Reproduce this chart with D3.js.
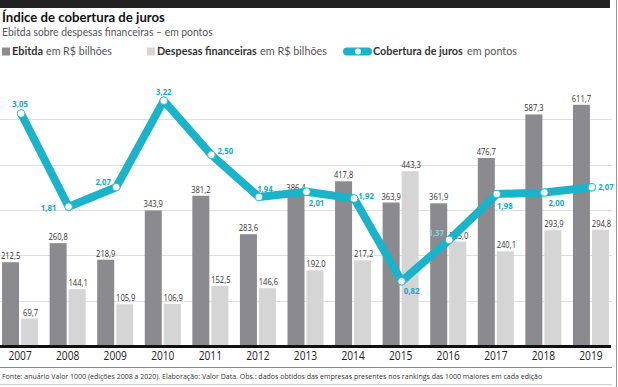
<!DOCTYPE html>
<html>
<head>
<meta charset="utf-8">
<script src="https://cdn.jsdelivr.net/npm/d3@7"></script>
<style>
  html, body { margin: 0; padding: 0; background: #fff; }
  svg { display: block; font-family: "Open Sans", sans-serif; }
</style>
</head>
<body>
<svg id="chart" width="618" height="387"></svg>
<script>
// ---- data ----
const years = ["2007","2008","2009","2010","2011","2012","2013","2014","2015","2016","2017","2018","2019"];
const ebitda = [212.5, 260.8, 218.9, 343.9, 381.2, 283.6, 386.4, 417.8, 363.9, 361.9, 476.7, 587.3, 611.7];
const despesas = [69.7, 144.1, 105.9, 106.9, 152.5, 146.6, 192.0, 217.2, 443.3, 265.0, 240.1, 293.9, 294.8];
const cobertura = [3.05, 1.81, 2.07, 3.22, 2.50, 1.94, 2.01, 1.92, 0.82, 1.37, 1.98, 2.00, 2.07];
const gridValues = [115, 230, 345, 460, 575];

// label placement for the line values (layout only)
const lineLabelOffsets = [[-1,-6.5],[-20,4.5],[-13,-2.5],[0,-5.5],[14,-0.5],[6,-5.5],[10,14.5],[12,0.5],[10,12.5],[-13,-3.5],[8,14.5],[12,13.5],[14,2.5]];

const C = { dark: "#8b8b8f", light: "#d5d5d5", cyan: "#1bb3c9", cyanText: "#17a9c0", text: "#333", grid: "#dedede" };

const svg = d3.select("#chart");
const commaFmt = f => v => d3.format(f)(v).replace(".", ",");
const fmt1 = commaFmt(".1f"), fmt2 = commaFmt(".2f");

// horizontally condense text with a transform (keeps bounding boxes honest)
function squeeze(sel, opt) {
  sel.each(function() {
    const t = d3.select(this);
    const L = this.getComputedTextLength();
    const s = opt.width ? opt.width / L : opt.factor;
    const x0 = +t.attr("x") || 0, y0 = +t.attr("y") || 0;
    t.attr("x", 0).attr("y", 0).attr("transform", `translate(${x0},${y0}) scale(${s},1)`);
  });
}

// ---- scales ----
const x = d3.scaleBand().domain(years).range([0, 611]).paddingInner(0.243).paddingOuter(0.043);
const xs = d3.scaleBand().domain(["e","d"]).range([0, x.bandwidth()]).paddingInner(0.105);
const yBar = d3.scaleLinear().domain([0, 700]).range([346, 70]);
const yLine = d3.scaleLinear().domain([0, 4]).range([343, 42]);

// ---- header ----
svg.append("rect").attr("x", 0).attr("y", 0).attr("width", 610).attr("height", 8).attr("fill", "#222");
svg.append("line").attr("x1", 616.5).attr("x2", 616.5).attr("y1", 0).attr("y2", 387).attr("stroke", "#9a9a9a");

svg.append("text").attr("x", 2).attr("y", 21.5).attr("font-family", "Lato, sans-serif")
  .attr("font-size", 14).attr("font-weight", 700).attr("fill", "#111")
  .text("Índice de cobertura de juros").call(squeeze, { width: 163 });
svg.append("text").attr("x", 2).attr("y", 36).attr("font-family", "Lato, sans-serif")
  .attr("font-size", 11).attr("fill", "#555")
  .text("Ebitda sobre despesas financeiras – em pontos").call(squeeze, { width: 211 });

// legend
const lg = svg.append("g").attr("font-size", 11).attr("font-family", "Lato, sans-serif");
function legendText(xPos, w, str, bold) {
  lg.append("text").attr("x", xPos).attr("y", 55)
    .attr("font-weight", bold ? 700 : 400).attr("fill", bold ? "#333" : "#555")
    .text(str).call(squeeze, { width: w });
}
lg.append("rect").attr("x", 2).attr("y", 47.5).attr("width", 8).attr("height", 8).attr("fill", C.dark);
legendText(12, 31, "Ebitda", true);
legendText(46, 66, "em R$ bilhões", false);

lg.append("rect").attr("x", 147).attr("y", 47.5).attr("width", 8).attr("height", 8).attr("fill", C.light);
legendText(157, 100, "Despesas financeiras", true);
legendText(260, 67, "em R$ bilhões", false);

lg.append("line").attr("x1", 347).attr("x2", 368).attr("y1", 51.5).attr("y2", 51.5)
  .attr("stroke", C.cyan).attr("stroke-width", 8).attr("stroke-linecap", "round");
lg.append("circle").attr("cx", 358).attr("cy", 51.5).attr("r", 3).attr("fill", "#fff");
legendText(373, 90, "Cobertura de juros", true);
legendText(467, 50, "em pontos", false);

// ---- grid ----
svg.append("g").selectAll("line").data(gridValues).join("line")
  .attr("x1", 0).attr("x2", 612)
  .attr("y1", d => Math.round(yBar(d)) + 0.5).attr("y2", d => Math.round(yBar(d)) + 0.5)
  .attr("stroke", C.grid).attr("stroke-width", 1);

// ---- bars ----
const groups = svg.append("g").selectAll("g").data(years).join("g")
  .attr("transform", d => `translate(${x(d)},0)`);
groups.append("rect").attr("x", xs("e")).attr("width", xs.bandwidth())
  .attr("y", (d, i) => yBar(ebitda[i])).attr("height", (d, i) => yBar(0) - yBar(ebitda[i]))
  .attr("fill", C.dark);
groups.append("rect").attr("x", xs("d")).attr("width", xs.bandwidth())
  .attr("y", (d, i) => yBar(despesas[i])).attr("height", (d, i) => yBar(0) - yBar(despesas[i]))
  .attr("fill", C.light);

// bar labels
const barLabels = svg.append("g").attr("font-size", 9.5).attr("fill", C.text);
barLabels.selectAll("text.e").data(years).join("text").attr("class", "e")
  .attr("x", (d) => x(d) + xs("e") + xs.bandwidth() / 2)
  .attr("y", (d, i) => yBar(ebitda[i]) - 3)
  .attr("text-anchor", "middle")
  .text((d, i) => fmt1(ebitda[i])).call(squeeze, { factor: 0.8 });
barLabels.selectAll("text.d").data(years).join("text").attr("class", "d")
  .attr("x", (d) => x(d) + xs("d") + xs.bandwidth() / 2 + 1)
  .attr("y", (d, i) => yBar(despesas[i]) - 3)
  .attr("text-anchor", "middle")
  .text((d, i) => fmt1(despesas[i])).call(squeeze, { factor: 0.8 });

// ---- baseline ----
svg.append("line").attr("x1", 0).attr("x2", 611).attr("y1", 346.5).attr("y2", 346.5)
  .attr("stroke", "#111").attr("stroke-width", 3);

// x axis labels
const xAxis = svg.append("g").attr("transform", "translate(0,360)")
  .call(d3.axisBottom(x).tickSize(0).tickPadding(0));
xAxis.select(".domain").remove();
xAxis.selectAll("text").attr("font-size", 12).attr("fill", "#222")
  .attr("font-family", "Open Sans, sans-serif").attr("dy", 0).attr("y", 0)
  .call(squeeze, { factor: 0.85 });

// ---- line ----
const px = i => x(years[i]) + x.bandwidth() / 2 + 1;
const line = d3.line().x((d, i) => px(i)).y(d => yLine(d));
svg.append("path").datum(cobertura).attr("d", line)
  .attr("fill", "none").attr("stroke", C.cyan).attr("stroke-width", 8)
  .attr("stroke-linejoin", "round").attr("stroke-linecap", "round");
svg.append("g").selectAll("circle").data(cobertura).join("circle")
  .attr("cx", (d, i) => px(i)).attr("cy", d => yLine(d)).attr("r", 3.8)
  .attr("fill", "#fff").attr("stroke", C.cyan).attr("stroke-width", 0.8);
svg.append("g").attr("font-size", 9.5).attr("font-weight", 700)
  .selectAll("text").data(cobertura).join("text")
  .attr("x", (d, i) => px(i) + lineLabelOffsets[i][0])
  .attr("y", (d, i) => yLine(d) + lineLabelOffsets[i][1])
  .attr("text-anchor", "middle")
  .attr("fill", (d, i) => i === 9 ? "#86d3df" : C.cyanText)
  .text(d => fmt2(d)).call(squeeze, { factor: 0.82 });

// ---- footer ----
svg.append("line").attr("x1", 0).attr("x2", 612).attr("y1", 367.5).attr("y2", 367.5).attr("stroke", "#888");
svg.append("text").attr("x", 2).attr("y", 378.5).attr("font-size", 8).attr("fill", "#333")
  .text("Fonte: anuário Valor 1000 (edições 2008 a 2020). Elaboração: Valor Data. Obs.: dados obtidos das empresas presentes nos rankings das 1000 maiores em cada edição")
  .call(squeeze, { width: 541 });
svg.append("line").attr("x1", 0).attr("x2", 612).attr("y1", 384.5).attr("y2", 384.5).attr("stroke", "#cfcfcf");
</script>
</body>
</html>
